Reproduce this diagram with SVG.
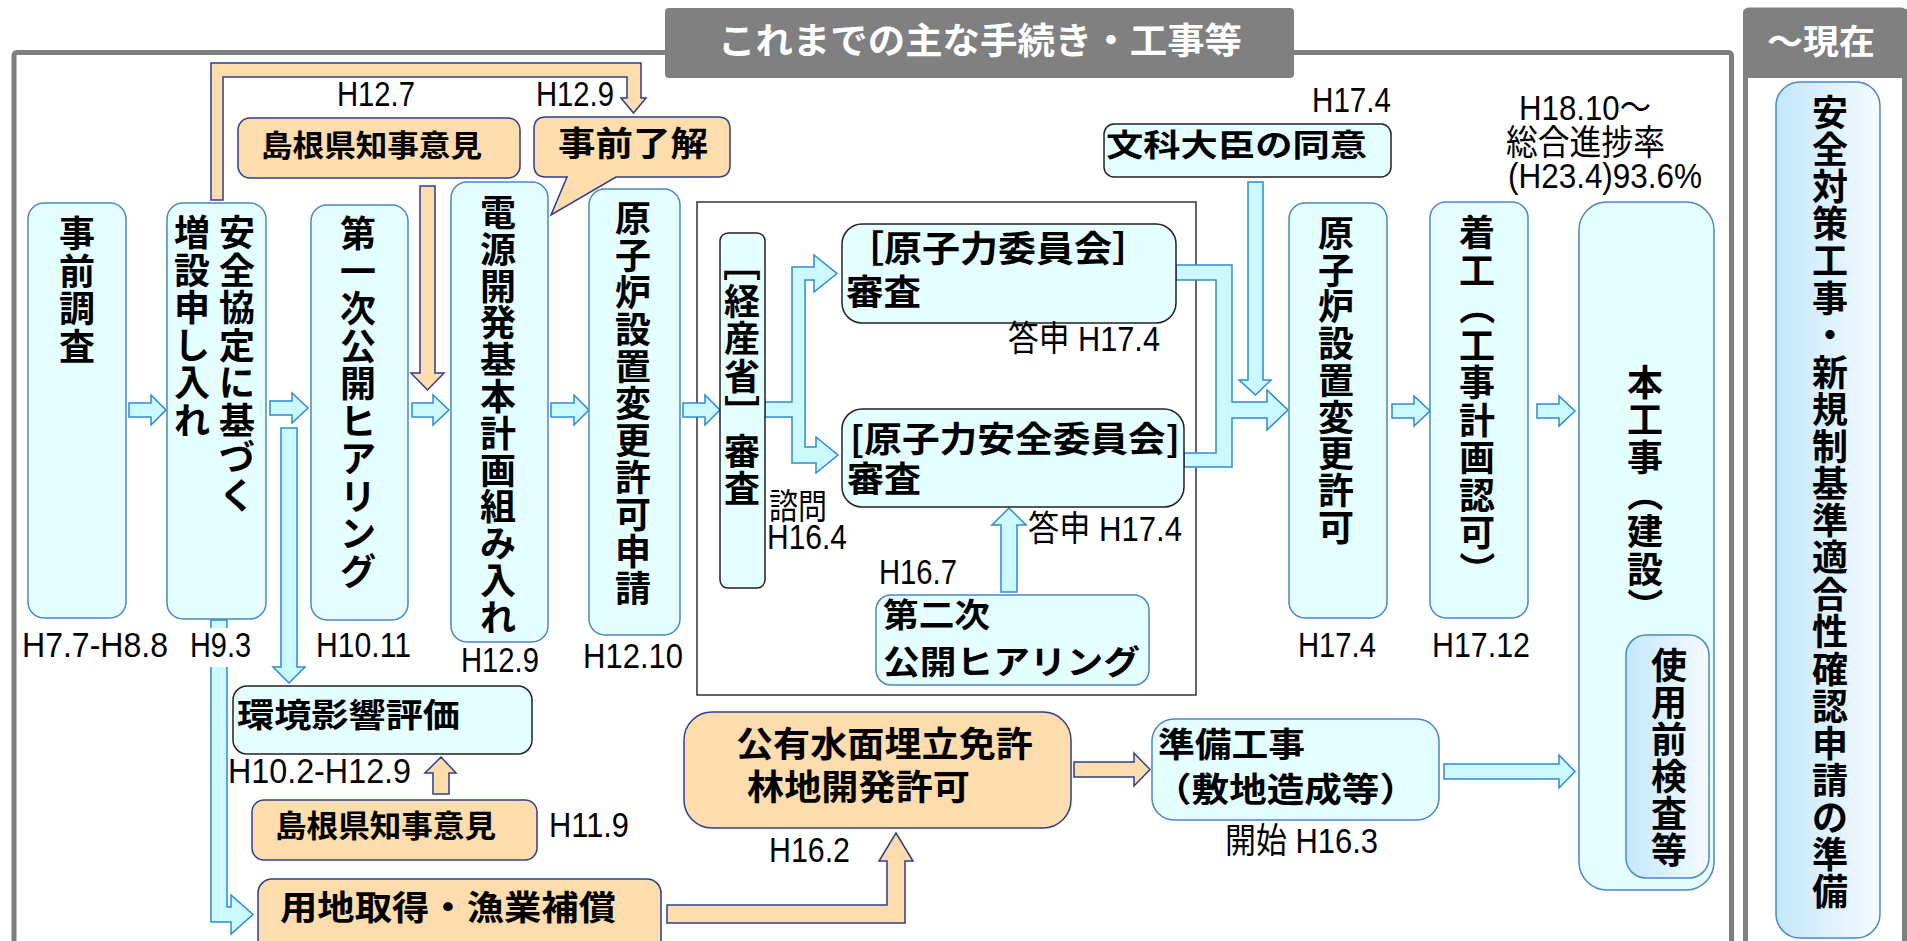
<svg xmlns="http://www.w3.org/2000/svg" width="1907" height="941" viewBox="0 0 1907 941">
<defs>
<linearGradient id="gb" x1="0" y1="0" x2="1" y2="0">
<stop offset="0" stop-color="#c3e7fb"/>
<stop offset="1" stop-color="#f6fbff"/>
</linearGradient>
<style>
.cb{fill:#e5feff;stroke:#4a86c8;stroke-width:1.5}
.db{fill:#e5feff;stroke:#222;stroke-width:1.5}
.ob{fill:#fddcae;stroke:#2e3d8f;stroke-width:1.5}
.gr{fill:url(#gb);stroke:#4a86c8;stroke-width:1.5}
.ca{fill:#ccf8ff;stroke:#2b8ad8;stroke-width:1.5}
.oa{fill:#fddcae;stroke:#2e3d8f;stroke-width:1.5}
.b{font-family:'Noto Sans CJK JP',sans-serif;font-weight:700;fill:#000}
.vt{font-family:'Noto Sans CJK JP',sans-serif;font-weight:700;fill:#000;font-size:36px}
.r{font-family:'Liberation Sans','Noto Sans CJK JP',sans-serif;font-size:35px;fill:#000}
.w{font-family:'Noto Sans CJK JP',sans-serif;font-weight:700;fill:#fff}
</style>
</defs>
<rect x="0" y="0" width="1907" height="941" fill="#fff"/>

<g id="frame">
<rect x="14" y="52.5" width="1717.5" height="960" rx="3" fill="none" stroke="#7f7f7f" stroke-width="5"/>
<rect x="665" y="8" width="629" height="70" rx="4" fill="#808080"/>
<text class="w" x="718" y="54" font-size="36" textLength="524" lengthAdjust="spacingAndGlyphs">これまでの主な手続き・工事等</text>
<rect x="1745.5" y="10" width="159" height="1000" rx="3" fill="#fff" stroke="#808080" stroke-width="5"/>
<path d="M1743,78 V14 Q1743,9 1748,9 H1907 V78 Z" fill="#808080"/>
<text class="w" x="1767" y="54" font-size="34" textLength="108" lengthAdjust="spacingAndGlyphs">〜現在</text>
<rect x="697" y="202" width="499" height="493" fill="none" stroke="#333" stroke-width="1.5"/>
</g>

<g id="connectors">
<polygon class="ca" points="129,403 151,403 151,395 166,410 151,425 151,417 129,417"/>
<polygon class="ca" points="270,401 292,401 292,393 308,408 292,423 292,415 270,415"/>
<polygon class="ca" points="412,403 433,403 433,395 449,410 433,425 433,417 412,417"/>
<polygon class="ca" points="551,403 574,403 574,395 589,410 574,425 574,417 551,417"/>
<polygon class="ca" points="683,403 705,403 705,395 720,410 705,425 705,417 683,417"/>
<polygon class="ca" points="1392,404 1414,404 1414,396 1430,411 1414,426 1414,418 1392,418"/>
<polygon class="ca" points="1537,404 1559,404 1559,396 1575,411 1559,426 1559,418 1537,418"/>
<polygon class="ca" points="281,428 297,428 297,667 305,667 289,683 273,667 281,667"/>
<polygon class="ca" points="211,620 227,620 227,907 231,907 231,895 253,914.5 231,934 231,922 211,922"/>
<polygon class="ca" points="765,402 792,402 792,267 814,267 814,255 837,273.5 814,292 814,280 805,280 805,447 816,447 816,437 838,455 816,473 816,463 792,463 792,417 765,417"/>
<polygon class="ca" points="1176,265 1232,265 1232,402 1267,402 1267,390 1288,410 1267,430 1267,418 1232,418 1232,467 1184,467 1184,453 1216,453 1216,280 1176,280"/>
<polygon class="ca" points="1248,182 1263,182 1263,380 1271,380 1255.5,395 1239,380 1248,380"/>
<polygon class="ca" points="1001,592 1017,592 1017,525 1026,525 1009,508 992,525 1001,525"/>
<polygon class="ca" points="1444,764 1559,764 1559,755 1575,771.5 1559,788 1559,779 1444,779"/>
<polygon class="oa" points="211,200 211,63 641,63 641,98 646,98 633.5,113 621,98 627,98 627,77 223,77 223,200"/>
<polygon class="oa" points="420,186 435,186 435,373 444,373 427.5,390 411,373 420,373"/>
<polygon class="oa" points="433,794 449,794 449,773 456,773 441,757 425,773 433,773"/>
<polygon class="oa" points="667,905 887,905 887,861 879,861 896,833 913,861 905,861 905,923 667,923"/>
<polygon class="oa" points="1074,762 1134,762 1134,753 1150,769.5 1134,786 1134,777 1074,777"/>
</g>

<g id="n1"><rect class="cb" x="28" y="203" width="98" height="415" rx="16"/>
<text class="vt" x="59 59 59 59" y="247 284.5 322 359.5">事前調査</text></g>
<g id="n2"><rect class="cb" x="167" y="203" width="99" height="416" rx="16"/>
<text class="vt" x="219 219 219 219 219 219 219 219" y="246 283.5 321 358.5 396 433.5 471 508.5">安全協定に基づく</text>
<text class="vt" x="174 174 174 174 174 174" y="246 283.5 321 358.5 396 433.5">増設申し入れ</text></g>
<g id="n3"><rect class="cb" x="311" y="205" width="97" height="415" rx="16"/>
<text class="vt" x="340 340 340 340 340 340 340 340 340 340" y="247 284.5 322 359.5 397 434.5 472 509.5 547 584.5">第一次公開ヒアリング</text></g>
<g id="n4"><rect class="cb" x="451" y="182" width="97" height="460" rx="16"/>
<text class="vt" x="480 480 480 480 480 480 480 480 480 480 480 480" y="226 262.8 299.6 336.4 373.2 410 446.8 483.6 520.4 557.2 594 630.8">電源開発基本計画組み入れ</text></g>
<g id="n5"><rect class="cb" x="589" y="189" width="91" height="446" rx="16"/>
<text class="vt" x="615 615 615 615 615 615 615 615 615 615 615" y="232 269 306 343 380 417 454 491 528 565 602">原子炉設置変更許可申請</text></g>
<g id="n6"><rect class="db" x="720" y="233" width="45" height="355" rx="8"/>
<text class="vt" x="728 724 724 724 728 724 724" y="245 314.5 352 389.5 395 464.5 502" rotate="90 0 0 0 90 0 0">［経産省］審査</text></g>
<g id="n7"><rect class="db" x="842" y="224" width="334" height="99" rx="20"/>
<text class="b" x="846" y="262" font-size="36" textLength="304" lengthAdjust="spacingAndGlyphs">［原子力委員会］</text>
<text class="b" x="846" y="305" font-size="35" textLength="75" lengthAdjust="spacingAndGlyphs">審査</text></g>
<g id="n8"><rect class="db" x="842" y="409" width="342" height="98" rx="20"/>
<text class="b" x="850" y="452" font-size="35" textLength="330" lengthAdjust="spacingAndGlyphs">[原子力安全委員会]</text>
<text class="b" x="847" y="492" font-size="35" textLength="74" lengthAdjust="spacingAndGlyphs">審査</text></g>
<g id="n9"><rect class="cb" x="876" y="595" width="273" height="90" rx="15"/>
<text class="b" x="883" y="627" font-size="33" textLength="107" lengthAdjust="spacingAndGlyphs">第二次</text>
<text class="b" x="883" y="674" font-size="33" textLength="257" lengthAdjust="spacingAndGlyphs">公開ヒアリング</text></g>
<g id="n10"><rect class="db" x="1104" y="124" width="287" height="53" rx="10"/>
<text class="b" x="1106" y="156" font-size="31" textLength="261" lengthAdjust="spacingAndGlyphs">文科大臣の同意</text></g>
<g id="n11"><rect class="cb" x="1289" y="203" width="98" height="415" rx="16"/>
<text class="vt" x="1318 1318 1318 1318 1318 1318 1318 1318 1318" y="247 283.7 320.4 357.1 393.8 430.5 467.2 503.9 540.6">原子炉設置変更許可</text></g>
<g id="n12"><rect class="cb" x="1430" y="202" width="98" height="416" rx="16"/>
<text class="vt" x="1459 1459 1463 1459 1459 1459 1459 1459 1459 1463" y="246 283.5 289 358.5 396 433.5 471 508.5 546 551.5" rotate="0 0 90 0 0 0 0 0 0 90">着工（工事計画認可）</text></g>
<g id="n13"><rect class="cb" x="1579" y="202" width="135" height="688" rx="28"/>
<text class="vt" x="1627 1627 1627 1631 1627 1627 1631" y="396 433.3 470.6 475.9 545.2 582.5 587.8" rotate="0 0 0 90 0 0 90">本工事（建設）</text></g>
<g id="n14"><rect class="gr" x="1626" y="635" width="83" height="243" rx="20"/>
<text class="vt" x="1651 1651 1651 1651 1651 1651" y="679 716 753 790 827 864">使用前検査等</text></g>
<g id="n15"><rect class="gr" x="1776" y="82" width="104" height="856" rx="24"/>
<text class="vt" x="1812 1812 1812 1812 1812 1812 1812 1812 1812 1812 1812 1812 1812 1812 1812 1812 1812 1812 1812 1812 1812 1812" y="126 163.1 200.2 237.3 274.4 311.5 348.6 385.7 422.8 459.9 497 534.1 571.2 608.3 645.4 682.5 719.6 756.7 793.8 830.9 868 905.1">安全対策工事・新規制基準適合性確認申請の準備</text></g>
<g id="n16"><rect class="ob" x="238" y="118" width="282" height="60" rx="12"/>
<text class="b" x="261" y="156" font-size="30" textLength="221" lengthAdjust="spacingAndGlyphs">島根県知事意見</text></g>
<g id="n17"><path class="ob" d="M546,117 H718 Q730,117 730,129 V165 Q730,177 718,177 H616 L551,215 L567,177 H546 Q534,177 534,165 V129 Q534,117 546,117 Z"/>
<text class="b" x="558" y="156" font-size="34" textLength="150" lengthAdjust="spacingAndGlyphs">事前了解</text></g>
<g id="n18"><rect class="db" x="233" y="686" width="299" height="68" rx="14"/>
<text class="b" x="237" y="727" font-size="33" textLength="223" lengthAdjust="spacingAndGlyphs">環境影響評価</text></g>
<g id="n19"><rect class="ob" x="252" y="800" width="285" height="60" rx="12"/>
<text class="b" x="275" y="837" font-size="31" textLength="221" lengthAdjust="spacingAndGlyphs">島根県知事意見</text></g>
<g id="n20"><rect class="ob" x="258" y="879" width="403" height="90" rx="14"/>
<text class="b" x="280" y="920" font-size="34" textLength="336" lengthAdjust="spacingAndGlyphs">用地取得・漁業補償</text></g>
<g id="n21"><rect class="ob" x="684" y="712" width="387" height="116" rx="28"/>
<text class="b" x="736" y="757" font-size="35" textLength="297" lengthAdjust="spacingAndGlyphs">公有水面埋立免許</text>
<text class="b" x="747" y="800" font-size="35" textLength="223" lengthAdjust="spacingAndGlyphs">林地開発許可</text></g>
<g id="n22"><rect class="cb" x="1152" y="719" width="287" height="101" rx="22"/>
<text class="b" x="1158" y="757" font-size="34" textLength="147" lengthAdjust="spacingAndGlyphs">準備工事</text>
<text class="b" x="1154" y="802" font-size="34" textLength="263" lengthAdjust="spacingAndGlyphs">（敷地造成等）</text></g>

<g id="labels">
<text class="r" x="337" y="106" textLength="78" lengthAdjust="spacingAndGlyphs">H12.7</text>
<text class="r" x="536" y="106" textLength="78" lengthAdjust="spacingAndGlyphs">H12.9</text>
<text class="r" x="1312" y="112" textLength="79" lengthAdjust="spacingAndGlyphs">H17.4</text>
<text class="r" x="1519" y="120" textLength="132" lengthAdjust="spacingAndGlyphs">H18.10〜</text>
<text class="r" x="1506" y="155" font-size="30" textLength="159" lengthAdjust="spacingAndGlyphs">総合進捗率</text>
<text class="r" x="1508" y="188" textLength="194" lengthAdjust="spacingAndGlyphs">(H23.4)93.6%</text>
<text class="r" x="22" y="657" textLength="146" lengthAdjust="spacingAndGlyphs">H7.7-H8.8</text>
<rect x="200" y="628" width="42" height="39" fill="#fff"/>
<text class="r" x="190" y="657" textLength="61" lengthAdjust="spacingAndGlyphs">H9.3</text>
<text class="r" x="316" y="657" textLength="95" lengthAdjust="spacingAndGlyphs">H10.11</text>
<text class="r" x="461" y="672" textLength="78" lengthAdjust="spacingAndGlyphs">H12.9</text>
<text class="r" x="583" y="668" textLength="100" lengthAdjust="spacingAndGlyphs">H12.10</text>
<text class="r" x="769" y="519" font-size="30" textLength="58" lengthAdjust="spacingAndGlyphs">諮問</text>
<text class="r" x="767" y="549" textLength="80" lengthAdjust="spacingAndGlyphs">H16.4</text>
<text class="r" x="1008" y="351" textLength="152" lengthAdjust="spacingAndGlyphs">答申 H17.4</text>
<text class="r" x="1028" y="541" textLength="154" lengthAdjust="spacingAndGlyphs">答申 H17.4</text>
<text class="r" x="879" y="584" textLength="78" lengthAdjust="spacingAndGlyphs">H16.7</text>
<text class="r" x="1298" y="657" textLength="78" lengthAdjust="spacingAndGlyphs">H17.4</text>
<text class="r" x="1432" y="657" textLength="98" lengthAdjust="spacingAndGlyphs">H17.12</text>
<text class="r" x="228" y="783" textLength="183" lengthAdjust="spacingAndGlyphs">H10.2-H12.9</text>
<text class="r" x="549" y="837" textLength="80" lengthAdjust="spacingAndGlyphs">H11.9</text>
<text class="r" x="769" y="862" textLength="81" lengthAdjust="spacingAndGlyphs">H16.2</text>
<text class="r" x="1225" y="853" textLength="153" lengthAdjust="spacingAndGlyphs">開始 H16.3</text>
</g>
</svg>
